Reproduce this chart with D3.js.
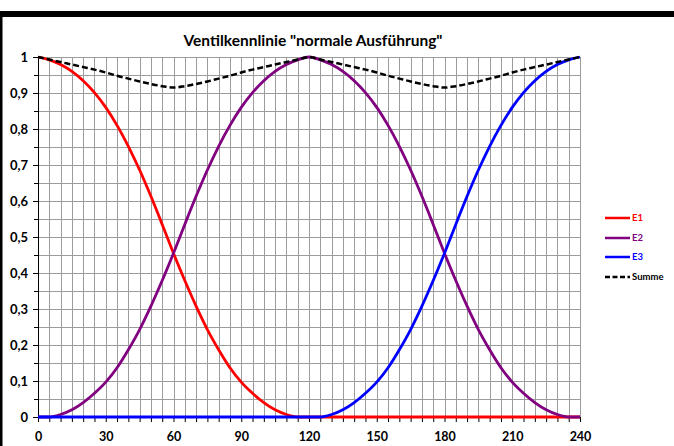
<!DOCTYPE html>
<html>
<head>
<meta charset="utf-8">
<script src="https://cdn.jsdelivr.net/npm/d3@7"></script>
<style>
html,body{margin:0;padding:0;background:#fff;}
svg{display:block;}
text{font-family:Lato,"Open Sans",sans-serif;font-weight:bold;}
</style>
</head>
<body>
<svg id="chart" width="674" height="446"></svg>
<script>
// ---- data ----
const angles = d3.range(0, 241, 5);
const xTickLabels = [0, 30, 60, 90, 120, 150, 180, 210, 240];
const yTickLabels = [0, 0.1, 0.2, 0.3, 0.4, 0.5, 0.6, 0.7, 0.8, 0.9, 1];
const e1 = [1.000,0.992,0.979,0.960,0.934,0.901,0.860,0.810,0.752,0.686,0.613,0.535,0.455,0.379,0.308,0.243,0.187,0.137,0.097,0.066,0.040,0.020,0.007,0.000,0.000,
            0,0,0,0,0,0,0,0,0,0,0,0,0,0,0,0,0,0,0,0,0,0,0,0];
const e2 = [0.000,0.000,0.007,0.020,0.040,0.066,0.097,0.137,0.187,0.243,0.308,0.379,0.455,0.535,0.613,0.686,0.752,0.810,0.860,0.901,0.934,0.960,0.979,0.992,1.000,
            0.992,0.979,0.960,0.934,0.901,0.860,0.810,0.752,0.686,0.613,0.535,0.455,0.379,0.308,0.243,0.187,0.137,0.097,0.066,0.040,0.020,0.007,0.000,0.000];
const e3 = [0,0,0,0,0,0,0,0,0,0,0,0,0,0,0,0,0,0,0,0,0,0,0,0,0,
            0.000,0.007,0.020,0.040,0.066,0.097,0.137,0.187,0.243,0.308,0.379,0.455,0.535,0.613,0.686,0.752,0.810,0.860,0.901,0.934,0.960,0.979,0.992,1.000];
const summe = [1.000,0.993,0.986,0.979,0.972,0.965,0.957,0.948,0.940,0.932,0.925,0.919,0.915,0.919,0.925,0.932,0.940,0.948,0.957,0.965,0.972,0.979,0.986,0.993,1.000,
               0.993,0.986,0.979,0.972,0.965,0.957,0.948,0.940,0.932,0.925,0.919,0.915,0.919,0.925,0.932,0.940,0.948,0.957,0.965,0.972,0.979,0.986,0.993,1.000];
const seriesNames = ["E1", "E2", "E3", "Summe"];
const seriesColors = ["#ff0000", "#800080", "#0000ff", "#000000"];
const title = 'Ventilkennlinie "normale Ausführung"';

// ---- chart ----
const svg = d3.select("#chart");
const W = 674, H = 446;
svg.append("rect").attr("width", W).attr("height", H).attr("fill", "#fff");
// frame of the sheet
svg.append("rect").attr("x", 0).attr("y", 11).attr("width", W).attr("height", 6).attr("fill", "#000");
svg.append("rect").attr("x", 0).attr("y", 11).attr("width", 2.5).attr("height", H - 11).attr("fill", "#000");

const x = d3.scaleLinear().domain([0, 240]).range([38, 580]);
const y = d3.scaleLinear().domain([0, 1]).range([417, 57]);

svg.append("text").attr("x", 313).attr("y", 46).attr("text-anchor", "middle")
  .attr("font-size", 15.5).attr("fill", "#000").text(title);

// grid
const grid = svg.append("g").attr("stroke", "#9c9c9c").attr("stroke-width", 1).attr("shape-rendering", "crispEdges");
grid.selectAll("line.v").data(angles).join("line").attr("class", "v")
  .attr("x1", d => Math.round(x(d)) + 0.5).attr("x2", d => Math.round(x(d)) + 0.5)
  .attr("y1", y(1)).attr("y2", y(0));
grid.selectAll("line.h").data(d3.range(0, 21).map(i => i * 0.05)).join("line").attr("class", "h")
  .attr("x1", x(0)).attr("x2", x(240))
  .attr("y1", d => Math.round(y(d)) + 0.5).attr("y2", d => Math.round(y(d)) + 0.5);

// axes
const fmt = d => d3.format(".1f")(d).replace(".", ",").replace(/,0$/, "");
const yAxis = svg.append("g").attr("transform", `translate(${x(0)},0)`)
  .call(d3.axisLeft(y).tickValues(yTickLabels).tickSize(5).tickSizeOuter(0).tickPadding(5).tickFormat(fmt));
const yMinor = svg.append("g").attr("transform", `translate(${x(0)},0)`)
  .call(d3.axisLeft(y).tickValues(d3.range(0, 10).map(i => i * 0.1 + 0.05)).tickSize(4).tickSizeOuter(0).tickFormat(""));
yMinor.select(".domain").remove();
yAxis.selectAll("text").attr("font-size", 13).attr("fill", "#000").attr("font-family", "Lato");
const xAxis = svg.append("g").attr("transform", `translate(0,${y(0)})`)
  .call(d3.axisBottom(x).tickValues(angles).tickSize(5).tickSizeOuter(0)
    .tickFormat(d => xTickLabels.includes(d) ? d : ""));
xAxis.selectAll("text").attr("font-size", 12.5).attr("fill", "#000").attr("y", 23.5).attr("dy", 0).attr("font-family", "Lato");
svg.selectAll(".domain, .tick line").attr("stroke", "#000");

// lines
const data = [e1, e2, e3, summe];
const line = d3.line().x((d, i) => x(angles[i])).y(d => y(d)).curve(d3.curveMonotoneX);
data.forEach((arr, k) => {
  svg.append("path").datum(arr).attr("d", line).attr("fill", "none")
    .attr("stroke", seriesColors[k]).attr("stroke-width", k === 3 ? 2.5 : 2.8)
    .attr("stroke-dasharray", k === 3 ? "6,3" : null).attr("stroke-linejoin", "round");
});

// legend
const leg = svg.append("g");
const legY = [218, 238, 257, 277];
seriesNames.forEach((n, k) => {
  leg.append("line").attr("x1", 605).attr("x2", 630).attr("y1", legY[k]).attr("y2", legY[k])
    .attr("stroke", seriesColors[k]).attr("stroke-width", 2.5)
    .attr("stroke-dasharray", k === 3 ? "5,2.5" : null);
  leg.append("text").attr("x", 632).attr("y", legY[k]).attr("dy", "0.35em")
    .attr("font-size", 9.5).attr("fill", seriesColors[k]).text(n);
});
</script>
</body>
</html>
